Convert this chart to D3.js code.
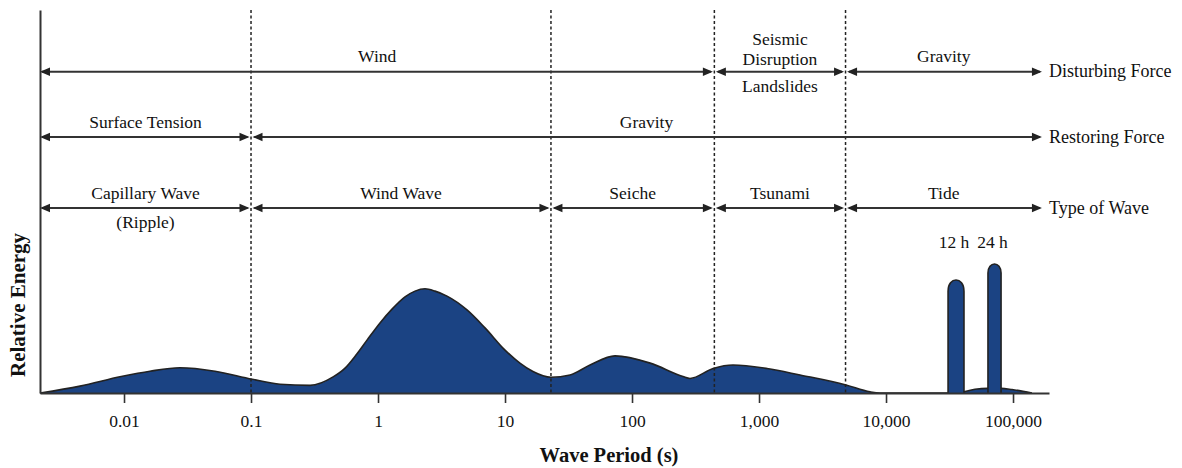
<!DOCTYPE html>
<html>
<head>
<meta charset="utf-8">
<script src="https://cdn.jsdelivr.net/npm/d3@7"></script>
<style>
  html, body { margin: 0; padding: 0; background: #fff; }
  svg { display: block; }
  text { font-family: "Liberation Serif", "Times New Roman", serif; fill: #111; }
</style>
</head>
<body>
<svg id="chart" width="1182" height="468"></svg>
<script>
// ---------- data ----------
// Energy spectrum (period in seconds, relative energy 0..100)
const spectrumPeriod = [0.00218, 0.0045, 0.0095, 0.016, 0.0276, 0.052, 0.102, 0.169, 0.292, 0.443, 0.55, 0.671, 0.819,
  1.037, 1.289, 1.632, 1.956, 2.345, 2.811, 3.494, 5.02, 6.96, 10, 13.1, 16.6, 23, 32.5, 46.7, 73.5, 139, 252, 286,
  435, 624, 1156, 2104, 4842, 7480, 8970,
  30800, 41100, 50200, 63500, 80500, 98200, 141000];
const spectrumEnergy = [0, 1.8, 4.3, 5.7, 6.6, 5.7, 3.6, 2.3, 2.0, 4.2, 6.5, 9.9, 13.8,
  18.3, 21.9, 25.1, 26.6, 27.2, 26.6, 25.3, 21.7, 17.0, 11.2, 7.8, 5.6, 4.1, 4.7, 7.3, 9.7, 7.8, 4.3, 3.8,
  6.4, 7.3, 6.4, 4.7, 2.1, 0.3, 0,
  0, 0.3, 1.0, 1.2, 1.2, 0.9, 0];

// Tidal peaks
const tideLabels = ["12 h", "24 h"];
const tideLeft = [30800, 63500];
const tideRight = [41100, 80500];
const tideEnergy = [29.5, 33.7];

// Axis ticks
const tickValues = [0.01, 0.1, 1, 10, 100, 1000, 10000, 100000];
const tickLabels = ["0.01", "0.1", "1", "10", "100", "1,000", "10,000", "100,000"];

// Region dividers (periods)
const dividers = [0.1, 23, 445, 4800];
const periodMin = 0.00218, periodMax = 192000, arrowEnd = 169000;

// Rows of arrows
const rowNames = ["Disturbing Force", "Restoring Force", "Type of Wave"];
const disturbingSegments = [
  { from: periodMin, to: 445, above: ["Wind"], below: [] },
  { from: 445, to: 4800, above: ["Seismic", "Disruption"], below: ["Landslides"] },
  { from: 4800, to: arrowEnd, above: ["Gravity"], below: [] }
];
const restoringSegments = [
  { from: periodMin, to: 0.1, above: ["Surface Tension"], below: [] },
  { from: 0.1, to: arrowEnd, above: ["Gravity"], below: [] }
];
const waveSegments = [
  { from: periodMin, to: 0.1, above: ["Capillary Wave"], below: ["(Ripple)"] },
  { from: 0.1, to: 23, above: ["Wind Wave"], below: [] },
  { from: 23, to: 445, above: ["Seiche"], below: [] },
  { from: 445, to: 4800, above: ["Tsunami"], below: [] },
  { from: 4800, to: arrowEnd, above: ["Tide"], below: [] }
];
const rows = [disturbingSegments, restoringSegments, waveSegments];

// ---------- layout ----------
const svg = d3.select("#chart");
const plotLeft = 40, plotRight = 1049, plotTop = 10, plotBase = 393;
const rowY = [71.7, 137, 208];
const fillColor = "#1b4383";
const lineColor = "#333";

const x = d3.scaleLog().domain([periodMin, periodMax]).range([plotLeft, plotRight]);
const y = d3.scaleLinear().domain([0, 100]).range([plotBase, plotTop]);

// ---------- spectrum area ----------
const pts = spectrumPeriod.map((p, i) => [p, spectrumEnergy[i]]);
const area = d3.area()
  .x(d => x(d[0])).y0(y(0)).y1(d => y(d[1]))
  .curve(d3.curveMonotoneX);
const line = d3.line()
  .x(d => x(d[0])).y(d => y(d[1]))
  .curve(d3.curveMonotoneX);
svg.append("path").attr("d", area(pts)).attr("fill", fillColor);
svg.append("path").attr("d", line(pts)).attr("fill", "none")
  .attr("stroke", "#222").attr("stroke-width", 1.6);

// tidal spikes
tideLabels.forEach((lab, i) => {
  const xL = x(tideLeft[i]), xR = x(tideRight[i]);
  const yT = y(tideEnergy[i]), y0 = y(0);
  const h = (xR - xL) * 0.7;
  const c = yT - h / 3;
  const d = `M${xL},${y0}V${yT + h}C${xL},${c} ${xR},${c} ${xR},${yT + h}V${y0}`;
  svg.append("path").attr("d", d).attr("fill", fillColor)
    .attr("stroke", "#222").attr("stroke-width", 1.6);
  svg.append("text").attr("x", (xL + xR) / 2 - 2).attr("y", 247.5)
    .attr("text-anchor", "middle").attr("font-size", 17.5).text(lab);
});

// ---------- divider lines ----------
svg.selectAll("line.div").data(dividers).join("line")
  .attr("class", "div")
  .attr("x1", d => x(d)).attr("x2", d => x(d))
  .attr("y1", plotTop).attr("y2", plotBase)
  .attr("stroke", "#222").attr("stroke-width", 1.5)
  .attr("stroke-dasharray", "3,2.5");

// ---------- axes ----------
const xAxis = d3.axisBottom(x)
  .tickValues(tickValues)
  .tickFormat((d, i) => tickLabels[i])
  .tickSize(10).tickSizeOuter(0).tickPadding(12);
const gx = svg.append("g").attr("transform", `translate(0,${plotBase})`).call(xAxis);
gx.select(".domain").attr("stroke", lineColor).attr("stroke-width", 2);
gx.selectAll(".tick line").attr("stroke", lineColor).attr("stroke-width", 1.6);
gx.selectAll(".tick text").attr("font-size", 17.5)
  .attr("font-family", "Liberation Serif").attr("fill", "#111");

const yAxis = d3.axisLeft(y).tickValues([]).tickSizeOuter(0);
const gy = svg.append("g").attr("transform", `translate(${plotLeft},0)`).call(yAxis);
gy.select(".domain").attr("stroke", lineColor).attr("stroke-width", 2);

svg.append("text").attr("x", 609).attr("y", 461.5).attr("text-anchor", "middle")
  .attr("font-size", 20.5).attr("font-weight", "bold").text("Wave Period (s)");
svg.append("text").attr("transform", "translate(25,305) rotate(-90)")
  .attr("text-anchor", "middle").attr("font-size", 21).attr("font-weight", "bold")
  .text("Relative Energy");

// ---------- arrow rows ----------
const headLen = 10, headHalf = 4.2;
function head(xTip, yy, dir) {
  const xb = xTip - dir * headLen;
  return `M${xTip},${yy}L${xb},${yy - headHalf}L${xb},${yy + headHalf}Z`;
}
rows.forEach((segs, r) => {
  const yy = rowY[r];
  const g = svg.append("g");
  segs.forEach(s => {
    const xa = x(s.from) + (s.from === periodMin ? 0 : 1.5);
    const xb = x(s.to) - (s.to === arrowEnd ? 0 : 1.5);
    g.append("line").attr("x1", xa + 2).attr("x2", xb - 2).attr("y1", yy).attr("y2", yy)
      .attr("stroke", lineColor).attr("stroke-width", 2);
    g.append("path").attr("d", head(xa, yy, -1)).attr("fill", "#222");
    g.append("path").attr("d", head(xb, yy, 1)).attr("fill", "#222");
    const cx = (x(s.from) + x(s.to)) / 2;
    const n = s.above.length;
    const off = n > 1 ? -6.5 : -9.5;
    s.above.forEach((t, k) => {
      g.append("text").attr("x", cx).attr("y", yy + off - (n - 1 - k) * 20.5)
        .attr("text-anchor", "middle").attr("font-size", 17.5).text(t);
    });
    s.below.forEach((t, k) => {
      g.append("text").attr("x", cx).attr("y", yy + 20 + k * 20.5)
        .attr("text-anchor", "middle").attr("font-size", 17.5).text(t);
    });
  });
  g.append("text").attr("x", plotRight).attr("y", yy + 5.5)
    .attr("font-size", 18).text(rowNames[r]);
});
</script>
</body>
</html>
